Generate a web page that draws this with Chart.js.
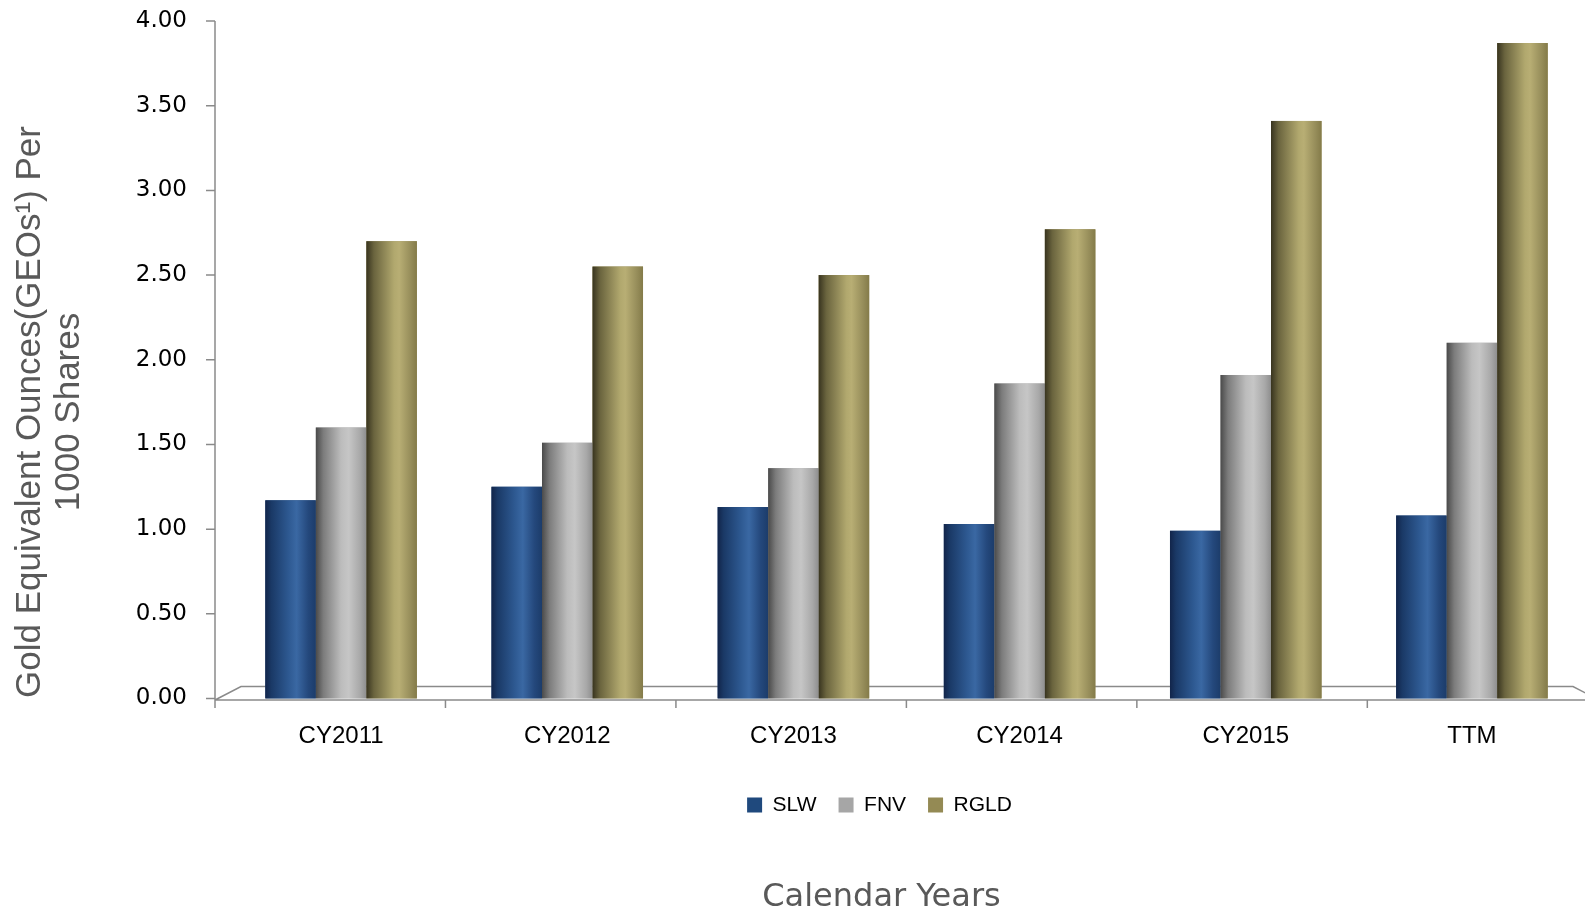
<!DOCTYPE html>
<html>
<head>
<meta charset="utf-8">
<title>GEOs per 1000 shares</title>
<script src="https://cdn.jsdelivr.net/npm/chart.js@4/dist/chart.umd.min.js"></script>
<style>
  html, body { margin: 0; padding: 0; background: #fff; }
  canvas { display: block; }
</style>
</head>
<body>
<canvas id="myChart" width="1585" height="910"></canvas>
<script>
// values
var categories = ['CY2011', 'CY2012', 'CY2013', 'CY2014', 'CY2015', 'TTM'];
var seriesNames = ['SLW', 'FNV', 'RGLD'];
var slw = [1.17, 1.25, 1.13, 1.03, 0.99, 1.08];
var fnv = [1.60, 1.51, 1.36, 1.86, 1.91, 2.10];
var rgld = [2.70, 2.55, 2.50, 2.77, 3.41, 3.87];
var yMin = 0, yMax = 4, yStep = 0.5;
var yTitleLines = ['Gold Equivalent Ounces(GEOs\u00B9) Per', '1000 Shares'];
var xTitle = 'Calendar Years';

var flatColors = ['#1F497D', '#A6A6A6', '#948A54'];
// cylinder shading, left edge -> right edge
var shades = [
    [[0, '#12254a'], [0.12, '#1a3966'], [0.45, '#2d5890'], [0.62, '#3a68a3'], [0.85, '#24487c'], [1, '#1c3c6a']],
    [[0, '#4a4a4a'], [0.15, '#7c7c7c'], [0.5, '#bcbcbc'], [0.65, '#c6c6c6'], [0.88, '#a8a8a8'], [1, '#8e8e8e']],
    [[0, '#38341f'], [0.15, '#6a643e'], [0.55, '#b1a86e'], [0.65, '#b8ae74'], [0.88, '#968d5a'], [1, '#847b49']]
];
var axisColor = '#8a8a8a';

var shading = {
    id: 'shading',
    afterDatasetsDraw: function (chart) {
        var c = chart.ctx;
        chart.data.datasets.forEach(function (ds, di) {
            chart.getDatasetMeta(di).data.forEach(function (bar) {
                var p = bar.getProps(['x', 'y', 'base', 'width'], true);
                var x1 = p.x - p.width / 2, x2 = p.x + p.width / 2;
                var g = c.createLinearGradient(x1, 0, x2, 0);
                shades[di].forEach(function (s) { g.addColorStop(s[0], s[1]); });
                c.save();
                c.fillStyle = g;
                c.fillRect(x1, p.y, p.width, p.base - p.y);
                c.restore();
            });
        });
    }
};

// 3d-ish floor and the y axis line
var floor = {
    id: 'floor',
    beforeDatasetsDraw: function (chart) {
        var c = chart.ctx, a = chart.chartArea, ys = chart.scales.y;
        var x0 = a.left - 13, yFront = a.bottom + 1.5, yBack = a.bottom - 12;
        var depth = 26;
        c.save();
        c.strokeStyle = axisColor;
        c.lineWidth = 1.5;
        c.beginPath();
        c.moveTo(x0, a.top); c.lineTo(x0, yFront + 8);
        ys.ticks.forEach(function (t) {
            var py = ys.getPixelForValue(t.value);
            c.moveTo(x0 - 9, py); c.lineTo(x0, py);
        });
        c.moveTo(x0, yFront); c.lineTo(a.right, yFront);
        c.moveTo(x0, yFront); c.lineTo(x0 + depth, yBack);
        c.lineTo(a.right - 12, yBack); c.lineTo(a.right - 12 + depth, yFront);
        var step = (a.right - a.left) / categories.length * 1.019;
        for (var i = 0; i <= categories.length; i++) {
            c.moveTo(x0 + i * step, yFront); c.lineTo(x0 + i * step, yFront + 8);
        }
        c.stroke();
        c.restore();
    },
    afterDraw: function (chart) {
        var c = chart.ctx;
        c.save();
        c.fillStyle = '#595959';
        c.font = '35px "Liberation Sans"';
        c.textAlign = 'center';
        c.textBaseline = 'alphabetic';
        [40, 79].forEach(function (bx, i) {
            c.save();
            c.translate(bx, 412);
            c.rotate(-Math.PI / 2);
            c.fillText(yTitleLines[i], 0, 0);
            c.restore();
        });
        c.restore();
    }
};

// legend and bottom title sit a bit left of the plot centre
var nudge = {
    id: 'nudge',
    afterLayout: function (chart) {
        if (chart.legend) { chart.legend.left -= 27; chart.legend.right -= 27; }
        if (chart.titleBlock) { chart.titleBlock.left -= 25; chart.titleBlock.right -= 25; }
    }
};

var ctx = document.getElementById('myChart').getContext('2d');
var myChart = new Chart(ctx, {
    type: 'bar',
    data: {
        labels: categories,
        datasets: [slw, fnv, rgld].map(function (vals, i) {
            return {
                label: seriesNames[i],
                data: vals,
                backgroundColor: flatColors[i],
                borderWidth: 0,
                categoryPercentage: 0.67,
                barPercentage: 1.0
            };
        })
    },
    options: {
        responsive: false,
        animation: false,
        devicePixelRatio: 1,
        layout: { padding: { top: 21, right: 0, bottom: 0, left: 0 } },
        scales: {
            x: {
                grid: { display: false, drawTicks: true, tickLength: 23 },
                border: { display: false },
                ticks: {
                    color: '#000',
                    font: { family: '"Liberation Sans"', size: 24 },
                    padding: 0,
                    labelOffset: 0,
                    maxRotation: 0
                },
                afterFit: function (s) { s.height = 74; }
            },
            y: {
                min: yMin,
                max: yMax,
                grid: { display: false, drawTicks: true, tickLength: 41 },
                border: { display: false },
                ticks: {
                    stepSize: yStep,
                    color: '#000',
                    font: { family: '"DejaVu Sans"', size: 23 },
                    padding: 0,
                    callback: function (v) { return v.toFixed(2); }
                },
                afterFit: function (s) { s.width = 228; }
            }
        },
        plugins: {
            legend: {
                position: 'bottom',
                fullSize: false,
                labels: {
                    boxWidth: 15,
                    boxHeight: 15,
                    padding: 22,
                    color: '#000',
                    font: { family: '"Liberation Sans"', size: 21 }
                }
            },
            title: {
                display: true,
                text: xTitle,
                position: 'bottom',
                fullSize: false,
                color: '#595959',
                font: { family: '"DejaVu Sans"', size: 32, weight: 'normal', lineHeight: 1 },
                padding: { top: 56, bottom: -3.5 }
            },
            tooltip: { enabled: false }
        }
    },
    plugins: [floor, shading, nudge]
});
</script>
</body>
</html>
